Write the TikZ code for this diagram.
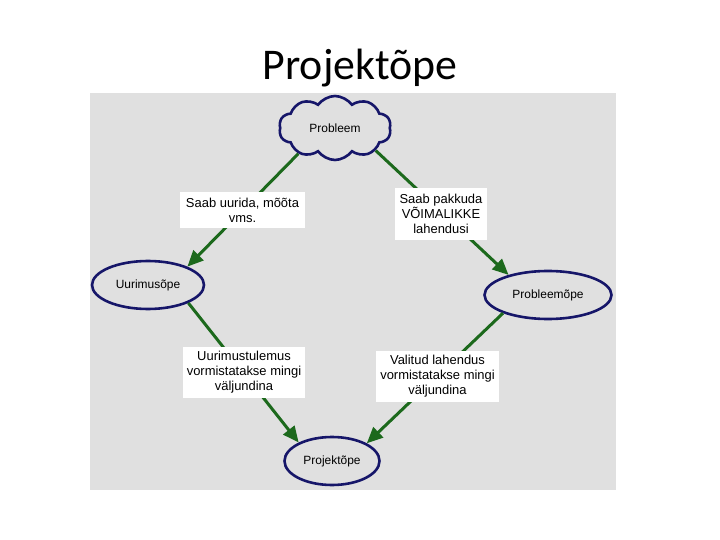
\documentclass[tikz,border=0pt]{standalone}
\usepackage{fontspec}
\setmainfont{Liberation Sans}
\newfontfamily\titlefont{Carlito}
\usetikzlibrary{arrows.meta, shapes.geometric, shapes.symbols}

\definecolor{panelgray}{RGB}{224,224,224}
\definecolor{stateblue}{RGB}{22,22,105}
\definecolor{arrowgreen}{RGB}{28,105,28}

\begin{document}
\begin{tikzpicture}[
    x=1bp, y=-1bp,
    state/.style={
        draw=stateblue,
        line width=2.6bp,
        ellipse,
        inner sep=0pt,
        minimum height=48bp,
        font=\fontsize{12}{15}\selectfont
    },
    note/.style={
        fill=white,
        inner sep=0pt,
        align=center,
        font=\fontsize{13}{15}\selectfont
    },
    flow/.style={-{Triangle[length=16bp, width=14bp]}, line width=3bp, arrowgreen}
]
\useasboundingbox (0,0) rectangle (720,540);
\fill[panelgray] (90,93) rectangle (616,490);
\node[font=\titlefont\fontsize{44}{52}\selectfont] (title) at (360,68) {Projektõpe};

\node[state, cloud, cloud puffs=10, cloud puff arc=110, aspect=1.8,
      minimum width=112bp, minimum height=64bp] (probleem) at (335,128) {Probleem};
\node[state, minimum width=112bp] (uurimus) at (148,285) {Uurimusõpe};
\node[state, minimum width=127bp] (probleemope) at (548,295) {Probleemõpe};
\node[state, minimum width=95bp] (projekt) at (332,461) {Projektõpe};

\draw[flow] (probleem.215) -- (uurimus.25);
\draw[flow] (probleem.331) -- (probleemope.153);
\draw[flow] (uurimus.336) -- (projekt.151);
\draw[flow] (probleemope.202) -- (projekt.27);

\node[note, minimum width=125bp, minimum height=36bp] (uurida) at (242.5,210) {Saab uurida, mõõta\\vms.};
\node[note, minimum width=92bp, minimum height=52bp] (pakkuda) at (441,214) {Saab pakkuda\\VÕIMALIKKE\\lahendusi};
\node[note, minimum width=122bp, minimum height=51bp] (tulemus) at (244,372.5) {Uurimustulemus\\vormistatakse mingi\\väljundina};
\node[note, minimum width=123bp, minimum height=51bp] (lahendus) at (437.5,376.5) {Valitud lahendus\\vormistatakse mingi\\väljundina};
\end{tikzpicture}
\end{document}
